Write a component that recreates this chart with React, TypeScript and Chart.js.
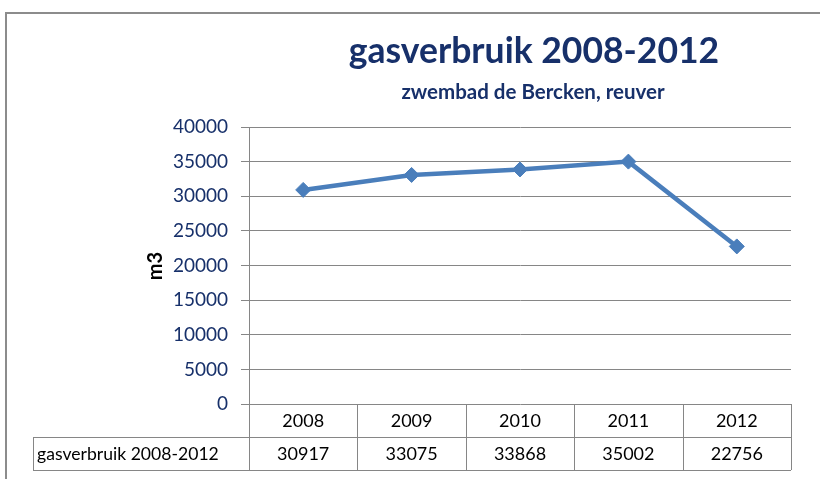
import React, { useEffect, useRef } from "react";
import { Chart, registerables } from "chart.js";

Chart.register(...registerables);

const categories = ["2008", "2009", "2010", "2011", "2012"];
const seriesName = "gasverbruik 2008-2012";
const values = [30917, 33075, 33868, 35002, 22756];
const yMin = 0;
const yMax = 40000;
const yStep = 5000;
const chartTitle = "gasverbruik 2008-2012";
const chartSubtitle = "zwembad de Bercken, reuver";
const yAxisTitle = "m3";

const NAVY = "#17306A";
const GRID = "#868686";
const LINE = "#4A7EBB";
const FONT = "Lato, Carlito, 'Open Sans', sans-serif";

const decorPlugin = {
  id: "decor",
  afterDraw(chart: any) {
    const ctx = chart.ctx as CanvasRenderingContext2D;
    const ca = chart.chartArea;
    const xs = chart.scales.x;
    ctx.save();

    // outer chart border
    ctx.strokeStyle = "#8C8C8C";
    ctx.lineWidth = 2;
    ctx.beginPath();
    ctx.moveTo(6, chart.height);
    ctx.lineTo(6, 13);
    ctx.lineTo(chart.width, 13);
    ctx.stroke();

    // titles
    ctx.fillStyle = NAVY;
    ctx.textAlign = "center";
    ctx.textBaseline = "middle";
    ctx.font = `bold 35.5px ${FONT}`;
    ctx.fillText(chartTitle, 534, 52);
    ctx.font = `bold 20.5px ${FONT}`;
    ctx.fillText(chartSubtitle, 533, 92);

    // y axis title
    ctx.save();
    ctx.translate(156, 266);
    ctx.rotate(-Math.PI / 2);
    ctx.fillStyle = "#000000";
    ctx.font = `bold 20px ${FONT}`;
    ctx.fillText(yAxisTitle, 0, 0);
    ctx.restore();

    // data table
    const rowH = 33;
    const top = ca.bottom;
    const half = (xs.getPixelForValue(1) - xs.getPixelForValue(0)) / 2;
    const labelLeft = 33;
    ctx.strokeStyle = GRID;
    ctx.lineWidth = 1;
    ctx.beginPath();
    ctx.moveTo(ca.left, top + rowH + 0.5);
    ctx.lineTo(ca.right, top + rowH + 0.5);
    ctx.moveTo(labelLeft, top + rowH + 0.5);
    ctx.lineTo(ca.left, top + rowH + 0.5);
    ctx.moveTo(labelLeft, top + 2 * rowH + 0.5);
    ctx.lineTo(ca.right, top + 2 * rowH + 0.5);
    ctx.moveTo(labelLeft + 0.5, top + rowH);
    ctx.lineTo(labelLeft + 0.5, top + 2 * rowH);
    for (let i = 0; i <= categories.length; i++) {
      const px = Math.round(xs.getPixelForValue(0) - half + i * 2 * half) + 0.5;
      ctx.moveTo(px, top);
      ctx.lineTo(px, top + 2 * rowH);
    }
    ctx.stroke();

    ctx.fillStyle = "#000000";
    ctx.font = `18px ${FONT}`;
    ctx.textBaseline = "middle";
    ctx.textAlign = "center";
    categories.forEach((c, i) => {
      const cx = xs.getPixelForValue(i);
      ctx.fillText(c, cx, top + rowH / 2 + 1);
      ctx.fillText(String(values[i]), cx, top + rowH * 1.5 + 1);
    });
    ctx.textAlign = "left";
    ctx.font = `17.6px ${FONT}`;
    ctx.fillText(seriesName, labelLeft + 4, top + rowH * 1.5 + 1);

    ctx.restore();
  },
};

export default function App() {
  const ref = useRef<HTMLCanvasElement | null>(null);

  useEffect(() => {
    if (!ref.current) return;
    const chart = new Chart(ref.current, {
      type: "line",
      data: {
        labels: categories,
        datasets: [
          {
            label: seriesName,
            data: values,
            borderColor: LINE,
            backgroundColor: LINE,
            borderWidth: 4.5,
            tension: 0,
            pointStyle: "rectRot",
            pointRadius: 7.5,
            pointBackgroundColor: LINE,
            pointBorderColor: LINE,
            pointBorderWidth: 1,
          },
        ],
      },
      options: {
        animation: false,
        responsive: true,
        maintainAspectRatio: false,
        devicePixelRatio: 1,
        layout: { padding: { top: 127, bottom: 75, left: 0, right: 29 } },
        plugins: {
          legend: { display: false },
          title: { display: false },
          tooltip: { enabled: false },
        },
        scales: {
          x: {
            type: "category",
            display: false,
            offset: true,
          },
          y: {
            min: yMin,
            max: yMax,
            ticks: {
              stepSize: yStep,
              color: NAVY,
              font: { family: FONT, size: 19 },
              padding: 13,
              callback: (v: any) => String(v),
            },
            grid: {
              color: GRID,
              lineWidth: 1,
              drawTicks: true,
              tickLength: 8,
            },
            border: { display: true, color: GRID, width: 1 },
            afterFit: (s: any) => {
              s.width = 249;
            },
          },
        },
      },
      plugins: [decorPlugin],
    });
    return () => chart.destroy();
  }, []);

  return (
    <div style={{ position: "absolute", left: 0, top: 0, width: 820, height: 479, background: "#ffffff" }}>
      <canvas ref={ref} />
    </div>
  );
}
